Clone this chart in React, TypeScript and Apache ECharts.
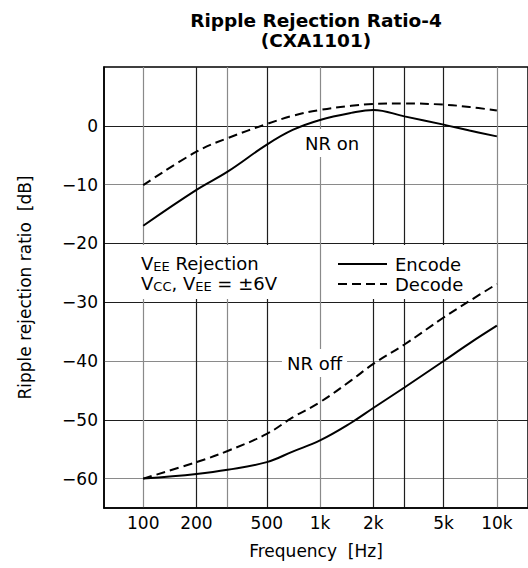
import React, { useEffect, useRef } from 'react';
import * as echarts from 'echarts';

// Frequencies [Hz] at which the curves were read
const freqs = [100, 200, 300, 500, 700, 1000, 1500, 2000, 3000, 5000, 7000, 10000];
// Ripple rejection ratio [dB]
const nrOnEncode = [-17, -10.9, -7.8, -3.2, -0.7, 1.0, 2.2, 2.7, 1.6, 0.2, -0.8, -1.8];
const nrOnDecode = [-10.1, -4.4, -2.1, 0.3, 1.7, 2.7, 3.4, 3.7, 3.8, 3.6, 3.2, 2.6];
const nrOffEncode = [-60, -59.2, -58.5, -57.2, -55.4, -53.5, -50.5, -48.0, -44.5, -40.0, -37.0, -34.0];
const nrOffDecode = [-60, -57.2, -55.3, -52.4, -49.6, -47.0, -43.3, -40.5, -37.2, -32.6, -29.8, -26.9];

// Axes
const gridFreqs = [100, 200, 300, 500, 1000, 2000, 3000, 5000, 10000];
const labelFreqs = [100, 200, 500, 1000, 2000, 5000, 10000];
const xTickLabels = ['100', '200', '500', '1k', '2k', '5k', '10k'];
const yTicks = [-60, -50, -40, -30, -20, -10, 0];
const yTickLabels = ['−60', '−50', '−40', '−30', '−20', '−10', '0'];
const freqMin = 60;
const freqMax = 15000;
const dbMin = -65;
const dbMax = 10;

const FONT = '"DejaVu Sans", "Liberation Sans", Arial, sans-serif';
const GRAY = '#8a8a8a';
const DARK = '#1e1e1e';

const toPoints = (vals: number[]) => freqs.map((f, i) => [Math.log10(f), vals[i]]);

export default function App() {
  const ref = useRef<HTMLDivElement>(null);

  useEffect(() => {
    if (!ref.current) return;
    const chart = echarts.init(ref.current, undefined, { renderer: 'svg' });

    const solid = { color: '#000', width: 2, type: 'solid' as const };
    const dashed = { color: '#000', width: 2, type: [9, 5] as any };
    const common = { type: 'line' as const, symbol: 'none', showSymbol: false, smooth: 0.4, z: 3, itemStyle: { color: '#000' } };

    chart.setOption({
      animation: false,
      backgroundColor: '#fff',
      textStyle: { fontFamily: FONT, color: '#000' },
      grid: {
        left: 104,
        top: 67,
        right: -4,
        bottom: 60,
        show: true,
        borderColor: '#000',
        borderWidth: 1.5,
        backgroundColor: 'transparent',
      },
      xAxis: {
        type: 'value',
        min: Math.log10(freqMin),
        max: Math.log10(freqMax),
        axisLine: { show: true, onZero: false, lineStyle: { color: '#000', width: 1.5 } },
        axisTick: { show: false, customValues: gridFreqs.map((f) => Math.log10(f)) },
        axisLabel: {
          customValues: labelFreqs.map((f) => Math.log10(f)),
          formatter: (v: number) => {
            const f = Math.round(Math.pow(10, v));
            const i = labelFreqs.indexOf(f);
            return i >= 0 ? xTickLabels[i] : '';
          },
          fontSize: 17,
          color: '#000',
          margin: 6,
          fontFamily: FONT,
        },
        splitLine: {
          show: true,
          lineStyle: { color: [GRAY, DARK, GRAY, DARK, GRAY, DARK, DARK, DARK, GRAY], width: 1.2 },
        },
        name: 'Frequency  [Hz]',
        nameLocation: 'middle',
        nameGap: 34,
        nameTextStyle: { fontSize: 17, color: '#000', fontFamily: FONT },
      },
      yAxis: {
        type: 'value',
        min: dbMin,
        max: dbMax,
        axisLine: { show: true, onZero: false, lineStyle: { color: '#000', width: 1.5 } },
        axisTick: { show: false, customValues: yTicks },
        axisLabel: {
          customValues: yTicks,
          formatter: (v: number) => {
            const i = yTicks.indexOf(Math.round(v));
            return i >= 0 ? yTickLabels[i] : '';
          },
          fontSize: 17,
          color: '#000',
          margin: 6,
          fontFamily: FONT,
        },
        splitLine: {
          show: true,
          lineStyle: { color: [GRAY, DARK, GRAY, DARK, DARK, GRAY, DARK], width: 1.2 },
        },
        name: 'Ripple rejection ratio  [dB]',
        nameLocation: 'middle',
        nameRotate: 90,
        nameGap: 71,
        nameTextStyle: { fontSize: 17, color: '#000', fontFamily: FONT },
      },
      legend: {
        data: ['Encode', 'Decode'],
        orient: 'vertical',
        left: 337,
        top: 255,
        itemWidth: 49,
        itemHeight: 14,
        itemGap: 2,
        padding: 0,
        selectedMode: false,
        itemStyle: { color: 'transparent', borderWidth: 0, opacity: 0 },
        textStyle: { fontSize: 18, color: '#000', fontFamily: FONT, padding: [0, 0, 0, 3] },
      },
      graphic: [
        {
          type: 'text',
          x: 316,
          y: 10,
          z: 10,
          style: {
            text: 'Ripple Rejection Ratio-4\n(CXA1101)',
            fontSize: 18.5,
            fontWeight: 'bold',
            fontFamily: FONT,
            lineHeight: 20,
            textAlign: 'center',
            textVerticalAlign: 'top',
            fill: '#000',
          },
        },
        { type: 'rect', z: 1, shape: { x: 106, y: 245, width: 194, height: 54 }, style: { fill: '#fff' } },
        { type: 'rect', z: 1, shape: { x: 330, y: 245, width: 160, height: 54 }, style: { fill: '#fff' } },
        {
          type: 'text',
          x: 141,
          y: 253,
          z: 10,
          style: {
            text: '{n|V}{s|EE}{n| Rejection}\n{n|V}{s|CC}{n|, V}{s|EE}{n| = ±6V}',
            textVerticalAlign: 'top',
            fill: '#000',
            rich: {
              n: { fontSize: 18, lineHeight: 20, fontFamily: FONT, fill: '#000' },
              s: { fontSize: 13, lineHeight: 16, verticalAlign: 'bottom', fontFamily: FONT, fill: '#000' },
            },
          },
        },
        {
          type: 'text',
          x: 332,
          y: 143,
          z: 1,
          style: {
            text: 'NR on',
            fontSize: 18,
            fontFamily: FONT,
            textAlign: 'center',
            textVerticalAlign: 'middle',
            fill: '#000',
            backgroundColor: '#fff',
            padding: [5, 5],
          },
        },
        {
          type: 'text',
          x: 314.5,
          y: 363,
          z: 1,
          style: {
            text: 'NR off',
            fontSize: 18,
            fontFamily: FONT,
            textAlign: 'center',
            textVerticalAlign: 'middle',
            fill: '#000',
            backgroundColor: '#fff',
            padding: [5, 5],
          },
        },
      ],
      series: [
        { ...common, name: 'Encode', data: toPoints(nrOnEncode), lineStyle: solid },
        { ...common, name: 'Decode', data: toPoints(nrOnDecode), lineStyle: dashed },
        { ...common, name: 'Encode', data: toPoints(nrOffEncode), lineStyle: solid },
        { ...common, name: 'Decode', data: toPoints(nrOffDecode), lineStyle: dashed },
      ],
    });

    return () => chart.dispose();
  }, []);

  return (
    <div
      ref={ref}
      style={{ position: 'fixed', left: 0, top: 0, width: 528, height: 568, background: '#fff' }}
    />
  );
}
